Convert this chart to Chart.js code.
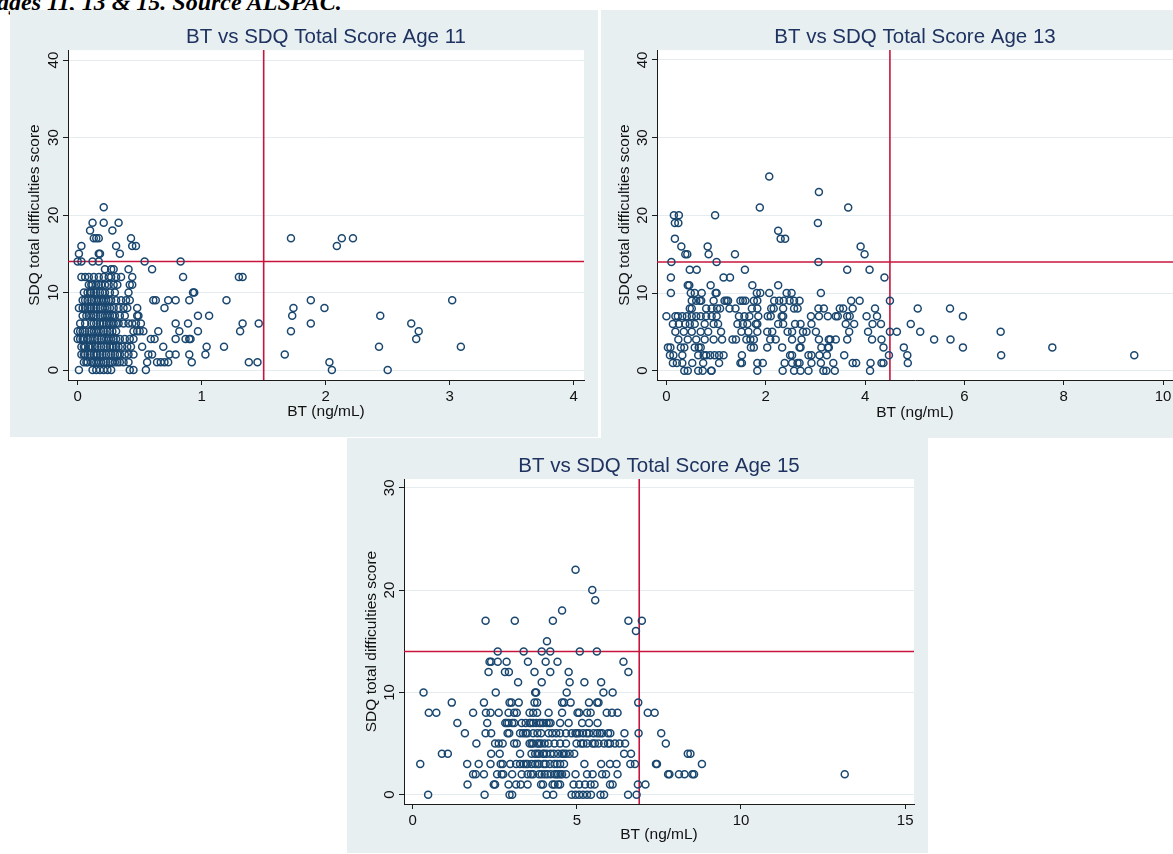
<!DOCTYPE html>
<html>
<head>
<meta charset="utf-8">
<title>BT vs SDQ Total Score</title>
<script src="https://cdn.jsdelivr.net/npm/chart.js@4.4.1/dist/chart.umd.min.js"></script>
<style>
  body {
    margin: 0;
    width: 1173px;
    height: 854px;
    overflow: hidden;
    position: relative;
    background: #fff;
  }
  .caption {
    position: absolute;
    left: -3px;
    top: -10px;
    font: italic bold 24px "Liberation Serif", "Times New Roman", serif;
    line-height: 24px;
    white-space: nowrap;
    color: #000;
  }
  .panel {
    position: absolute;
    background: #e8eff1;
  }
</style>
</head>
<body>
<div class="caption">ages 11, 13 &amp; 15. Source ALSPAC.</div>
<canvas id="age11" class="panel" width="588" height="427" style="left:10px;top:10px"></canvas>
<canvas id="age13" class="panel" width="590" height="428" style="left:601px;top:10px"></canvas>
<canvas id="age15" class="panel" width="581" height="415" style="left:347px;top:438px"></canvas>

<script>
// BT (ng/mL) readings grouped by SDQ total difficulties score: index = score
const age11BT = [
  [0.01, 0.12, 0.15, 0.18, 0.21, 0.24, 0.27, 0.42, 0.45, 0.55, 2.05, 2.50],
  [0.05, 0.07, 0.08, 0.11, 0.13, 0.15, 0.17, 0.19, 0.21, 0.23, 0.26, 0.28, 0.30, 0.32, 0.34, 0.37, 0.41, 0.56, 0.64, 0.67, 0.70, 0.73, 0.92, 1.38, 1.45, 2.03],
  [0.03, 0.05, 0.06, 0.08, 0.10, 0.13, 0.15, 0.16, 0.18, 0.20, 0.23, 0.25, 0.27, 0.30, 0.32, 0.34, 0.38, 0.41, 0.45, 0.57, 0.60, 0.74, 0.79, 0.90, 1.03, 1.67],
  [0.03, 0.05, 0.06, 0.09, 0.10, 0.12, 0.14, 0.16, 0.19, 0.21, 0.23, 0.26, 0.28, 0.29, 0.31, 0.33, 0.36, 0.40, 0.43, 0.52, 0.69, 1.04, 1.18, 2.43, 3.09],
  [0.00, 0.02, 0.04, 0.05, 0.08, 0.10, 0.12, 0.14, 0.16, 0.19, 0.21, 0.23, 0.25, 0.27, 0.29, 0.31, 0.34, 0.38, 0.42, 0.45, 0.59, 0.62, 0.79, 0.87, 0.90, 0.91, 2.73],
  [0.00, 0.02, 0.04, 0.06, 0.09, 0.11, 0.13, 0.15, 0.17, 0.19, 0.21, 0.24, 0.26, 0.28, 0.31, 0.45, 0.48, 0.50, 0.53, 0.65, 0.82, 0.97, 1.31, 1.72, 2.75],
  [0.02, 0.06, 0.11, 0.13, 0.15, 0.18, 0.20, 0.21, 0.23, 0.25, 0.27, 0.29, 0.31, 0.33, 0.37, 0.41, 0.44, 0.47, 0.51, 0.79, 0.89, 1.33, 1.46, 1.88, 2.69],
  [0.04, 0.07, 0.09, 0.11, 0.13, 0.15, 0.18, 0.20, 0.22, 0.24, 0.26, 0.28, 0.30, 0.34, 0.38, 0.48, 0.49, 0.97, 1.06, 1.73, 2.44],
  [0.01, 0.04, 0.06, 0.08, 0.10, 0.11, 0.13, 0.15, 0.18, 0.20, 0.22, 0.24, 0.26, 0.29, 0.33, 0.37, 0.40, 0.48, 0.70, 1.74, 1.99],
  [0.04, 0.06, 0.08, 0.11, 0.13, 0.15, 0.17, 0.19, 0.21, 0.23, 0.25, 0.27, 0.31, 0.35, 0.39, 0.42, 0.61, 0.63, 0.73, 0.79, 0.90, 1.20, 1.88, 3.02],
  [0.05, 0.08, 0.10, 0.11, 0.13, 0.15, 0.18, 0.20, 0.22, 0.26, 0.30, 0.41, 0.93, 0.94],
  [0.09, 0.11, 0.12, 0.15, 0.17, 0.19, 0.22, 0.25, 0.29, 0.32, 0.42, 0.44],
  [0.03, 0.06, 0.09, 0.13, 0.17, 0.21, 0.25, 0.27, 0.31, 0.35, 0.44, 0.85, 1.30, 1.33],
  [0.22, 0.27, 0.29, 0.41, 0.60],
  [0.00, 0.03, 0.12, 0.17, 0.54, 0.83],
  [0.01, 0.17, 0.18, 0.34],
  [0.03, 0.31, 0.44, 0.47, 2.09],
  [0.13, 0.15, 0.17, 0.43, 1.72, 2.13, 2.22],
  [0.10, 0.28],
  [0.12, 0.21, 0.33],
  [],
  [0.21]
];

const age13BT = [
  [0.36, 0.43, 0.64, 0.73, 0.90, 0.91, 1.83, 2.34, 2.57, 2.70, 2.86, 3.16, 3.22, 3.39, 4.10],
  [0.13, 0.21, 0.32, 0.52, 0.74, 1.06, 1.49, 1.52, 1.83, 1.94, 2.38, 2.53, 2.64, 2.68, 2.92, 3.11, 3.36, 3.75, 3.82, 4.11, 4.33, 4.37, 4.86],
  [0.07, 0.14, 0.32, 0.64, 0.75, 0.80, 0.88, 0.97, 1.06, 1.15, 1.52, 2.49, 2.53, 2.86, 2.92, 3.08, 3.23, 3.58, 4.48, 4.85, 6.74, 9.42],
  [0.03, 0.08, 0.29, 0.36, 0.57, 0.65, 0.69, 1.70, 1.76, 2.03, 2.33, 2.68, 2.70, 3.12, 3.25, 3.27, 4.37, 4.78, 5.97, 7.77],
  [0.24, 0.43, 0.60, 0.77, 0.95, 1.12, 1.33, 1.40, 1.61, 1.69, 1.76, 2.09, 2.20, 2.53, 2.72, 3.07, 3.27, 3.30, 3.41, 3.64, 4.14, 4.33, 5.39, 5.72],
  [0.18, 0.35, 0.51, 0.69, 0.84, 1.10, 1.51, 1.65, 1.83, 2.03, 2.13, 2.44, 2.53, 2.75, 2.82, 3.01, 3.68, 4.06, 4.50, 4.64, 5.11, 6.73],
  [0.13, 0.25, 0.38, 0.47, 0.57, 0.77, 0.95, 1.04, 1.43, 1.54, 1.63, 1.80, 1.83, 2.25, 2.35, 2.59, 2.70, 2.92, 3.61, 3.78, 4.15, 4.32, 4.92],
  [0.00, 0.18, 0.23, 0.32, 0.41, 0.51, 0.60, 0.69, 0.80, 0.91, 1.01, 1.46, 1.57, 1.67, 1.85, 2.04, 2.10, 2.32, 2.35, 2.91, 3.07, 3.25, 3.41, 3.45, 3.64, 3.69, 4.03, 4.24, 5.97],
  [0.47, 0.51, 0.80, 0.91, 1.02, 1.08, 1.27, 1.39, 1.72, 1.83, 2.11, 2.16, 2.35, 2.57, 2.64, 3.06, 3.17, 3.49, 3.56, 3.75, 4.20, 5.06, 5.71],
  [0.51, 0.60, 0.67, 0.70, 0.95, 1.17, 1.21, 1.24, 1.49, 1.54, 1.59, 1.76, 1.83, 2.17, 2.27, 2.36, 2.48, 2.57, 2.68, 3.72, 3.89, 4.50],
  [0.09, 0.49, 0.57, 0.71, 0.99, 1.01, 1.82, 1.89, 2.07, 2.42, 2.52, 3.11],
  [0.43, 0.46, 0.89, 1.73, 2.25],
  [0.09, 1.15, 1.28, 4.39],
  [0.47, 0.61, 1.58, 3.64, 4.09],
  [0.10, 1.01, 3.06],
  [0.38, 0.42, 0.85, 1.38, 3.99],
  [0.30, 0.83, 3.91],
  [0.17, 2.30, 2.39],
  [2.25],
  [0.17, 0.24, 3.05],
  [0.15, 0.25, 0.98],
  [1.88, 3.66],
  [],
  [3.07],
  [],
  [2.07]
];

const age15BT = [
  [0.47, 2.19, 2.95, 3.03, 4.08, 4.28, 4.84, 4.96, 5.07, 5.19, 5.31, 5.43, 5.72, 5.83, 6.56, 6.82],
  [1.67, 2.47, 2.51, 2.92, 3.15, 3.29, 3.50, 3.91, 3.97, 4.26, 4.32, 4.43, 4.49, 4.90, 5.07, 5.25, 5.42, 5.54, 6.01, 6.09, 6.86, 7.09],
  [1.84, 1.92, 2.17, 2.57, 2.71, 2.76, 3.03, 3.32, 3.50, 3.60, 3.67, 3.85, 3.93, 4.02, 4.10, 4.20, 4.32, 4.38, 4.43, 4.50, 4.55, 4.67, 4.96, 5.31, 5.48, 5.77, 5.89, 6.24, 7.78, 7.82, 8.11, 8.28, 8.52, 8.57, 13.16],
  [0.23, 1.66, 2.01, 2.37, 2.68, 2.74, 2.97, 3.15, 3.27, 3.38, 3.45, 3.50, 3.62, 3.73, 3.80, 3.85, 3.99, 4.05, 4.18, 4.32, 4.40, 4.49, 4.61, 5.23, 5.74, 6.01, 6.21, 6.63, 6.77, 7.41, 7.44, 8.81],
  [0.89, 1.07, 2.39, 2.65, 3.27, 3.62, 3.73, 3.80, 3.85, 3.97, 4.00, 4.08, 4.20, 4.30, 4.43, 4.55, 4.60, 4.67, 4.78, 4.92, 6.44, 6.65, 8.38, 8.46],
  [1.94, 2.51, 2.62, 2.74, 3.09, 3.17, 3.56, 3.62, 3.67, 3.79, 3.85, 3.91, 4.02, 4.14, 4.32, 4.49, 4.67, 4.99, 5.13, 5.20, 5.31, 5.48, 5.55, 5.66, 5.83, 5.95, 6.01, 6.16, 6.30, 6.47, 7.71],
  [1.59, 2.22, 2.39, 2.89, 2.94, 3.27, 3.36, 3.44, 3.50, 3.67, 3.80, 3.91, 4.14, 4.25, 4.37, 4.49, 4.67, 4.84, 4.96, 5.00, 5.07, 5.19, 5.30, 5.37, 5.51, 5.62, 5.70, 5.77, 5.95, 6.02, 6.45, 6.88, 7.57],
  [1.36, 2.27, 2.82, 2.87, 2.92, 3.03, 3.09, 3.32, 3.44, 3.56, 3.60, 3.67, 3.76, 3.85, 3.90, 3.97, 4.08, 4.15, 4.20, 4.49, 4.75, 5.16, 5.37, 5.63],
  [0.49, 0.72, 1.84, 2.23, 2.37, 2.62, 2.92, 3.09, 3.17, 3.56, 3.67, 3.79, 4.14, 4.55, 5.02, 5.07, 5.31, 5.42, 5.91, 6.07, 6.24, 7.16, 7.37],
  [1.19, 2.17, 2.95, 3.01, 3.23, 3.71, 3.79, 4.55, 4.61, 4.81, 5.37, 5.62, 5.66, 6.87],
  [0.33, 2.53, 3.73, 3.76, 4.69, 5.81, 6.09],
  [3.21, 3.93, 4.78, 5.23, 5.74],
  [2.31, 2.81, 2.93, 3.71, 4.19, 4.75, 6.57],
  [2.34, 2.39, 2.59, 2.86, 3.51, 4.05, 4.41, 6.42],
  [2.59, 3.38, 3.93, 4.19, 5.09, 5.61],
  [4.09],
  [6.80],
  [2.22, 3.11, 4.27, 6.57, 6.98],
  [4.55],
  [5.56],
  [5.47],
  [],
  [4.96]
];

// tick labels
const btTicks11 = [0, 1, 2, 3, 4];
const btTicks13 = [0, 2, 4, 6, 8, 10];
const btTicks15 = [0, 5, 10, 15];
const sdqTicks40 = [0, 10, 20, 30, 40];
const sdqTicks30 = [0, 10, 20, 30];

// cut-off reference lines
const sdqCutoff = 14;
const btCutoff11 = 1.5;
const btCutoff13 = 4.5;
const btCutoff15 = 6.9;

const FONT = '"Liberation Sans", Arial, Helvetica, sans-serif';
const NAVY = '#1a476f';
const CUTOFF_RED = '#c8143c';
const GRID = '#e4ecef';
const AXIS = '#1b1b1b';

// white plot region inside the light panel
const plotBackground = {
  id: 'plotBackground',
  beforeDraw(chart) {
    const { ctx, chartArea: a } = chart;
    ctx.save();
    ctx.fillStyle = '#ffffff';
    ctx.fillRect(a.left, a.top, a.right - a.left, a.bottom - a.top);
    ctx.restore();
  }
};

function scoreChart(id, opt) {
  const points = opt.bt.flatMap((row, score) => row.map(v => ({ x: v, y: score })));
  const [x0, x1] = opt.xRange;
  const [y0, y1] = opt.yRange;

  return new Chart(document.getElementById(id), {
    type: 'scatter',
    data: {
      datasets: [
        {
          data: points,
          pointStyle: 'circle',
          pointRadius: 3.5,
          pointHoverRadius: 3.5,
          pointBorderWidth: 1.5,
          pointBorderColor: NAVY,
          pointBackgroundColor: 'rgba(0,0,0,0)'
        },
        {
          data: [{ x: x0, y: sdqCutoff }, { x: x1, y: sdqCutoff }],
          showLine: true,
          borderColor: CUTOFF_RED,
          borderWidth: 1.6,
          pointRadius: 0
        },
        {
          data: [{ x: opt.cutoff, y: y0 }, { x: opt.cutoff, y: y1 }],
          showLine: true,
          borderColor: CUTOFF_RED,
          borderWidth: 1.6,
          pointRadius: 0
        }
      ]
    },
    options: {
      responsive: false,
      animation: false,
      events: [],
      layout: { padding: { left: 0, top: 0, right: opt.padRight, bottom: 0 } },
      plugins: {
        legend: { display: false },
        tooltip: { enabled: false },
        title: {
          display: true,
          fullSize: false,
          text: opt.title,
          color: '#1f3361',
          font: { family: FONT, size: 20.5, weight: 'normal' },
          padding: { top: opt.titleTop, bottom: opt.titleBottom }
        }
      },
      scales: {
        x: {
          type: 'linear',
          min: x0,
          max: x1,
          afterBuildTicks: s => { s.ticks = opt.xTicks.map(v => ({ value: v })); },
          afterFit: s => { s.height = opt.xHeight; },
          border: { display: true, color: AXIS, width: 1 },
          grid: { drawOnChartArea: false, tickColor: AXIS, tickLength: 5, lineWidth: 1 },
          ticks: {
            autoSkip: false,
            maxRotation: 0,
            padding: 3,
            color: '#111',
            font: { family: FONT, size: 15 },
            callback: v => String(v)
          },
          title: {
            display: true,
            text: 'BT (ng/mL)',
            color: '#111',
            font: { family: FONT, size: 15.5 },
            padding: { top: 0, bottom: opt.xTitleBottom }
          }
        },
        y: {
          type: 'linear',
          min: y0,
          max: y1,
          afterBuildTicks: s => { s.ticks = opt.yTicks.map(v => ({ value: v })); },
          afterFit: s => { s.width = opt.yWidth; },
          border: { display: true, color: AXIS, width: 1 },
          grid: { color: GRID, lineWidth: 1, tickColor: AXIS, tickLength: 5 },
          ticks: {
            autoSkip: false,
            minRotation: 90,
            maxRotation: 90,
            crossAlign: 'center',
            padding: 1,
            color: '#111',
            font: { family: FONT, size: 15 },
            callback: v => String(v)
          },
          title: {
            display: true,
            text: 'SDQ total difficulties score',
            color: '#111',
            font: { family: FONT, size: 15.5 },
            padding: { top: opt.yTitleTop, bottom: 0 }
          }
        }
      }
    },
    plugins: [plotBackground]
  });
}

scoreChart('age11', {
  title: 'BT vs SDQ Total Score Age 11',
  bt: age11BT, cutoff: btCutoff11,
  xTicks: btTicks11, yTicks: sdqTicks40,
  xRange: [-0.078, 4.083], yRange: [-1.29, 41.29],
  yWidth: 58, xHeight: 57, padRight: 14,
  titleTop: 15.5, titleBottom: 0,
  xTitleBottom: 15.5, yTitleTop: 15
});

scoreChart('age13', {
  title: 'BT vs SDQ Total Score Age 13',
  bt: age13BT, cutoff: btCutoff13,
  xTicks: btTicks13, yTicks: sdqTicks40,
  xRange: [-0.19, 10.2], yRange: [-1.2, 41.27],
  yWidth: 56, xHeight: 58, padRight: 18,
  titleTop: 15.5, titleBottom: 0,
  xTitleBottom: 15.5, yTitleTop: 14.5
});

scoreChart('age15', {
  title: 'BT vs SDQ Total Score Age 15',
  bt: age15BT, cutoff: btCutoff15,
  xTicks: btTicks15, yTicks: sdqTicks30,
  xRange: [-0.265, 15.27], yRange: [-0.91, 30.86],
  yWidth: 57, xHeight: 49, padRight: 14,
  titleTop: 16, titleBottom: 0.4,
  xTitleBottom: 8.5, yTitleTop: 15.3
});
</script>
</body>
</html>
